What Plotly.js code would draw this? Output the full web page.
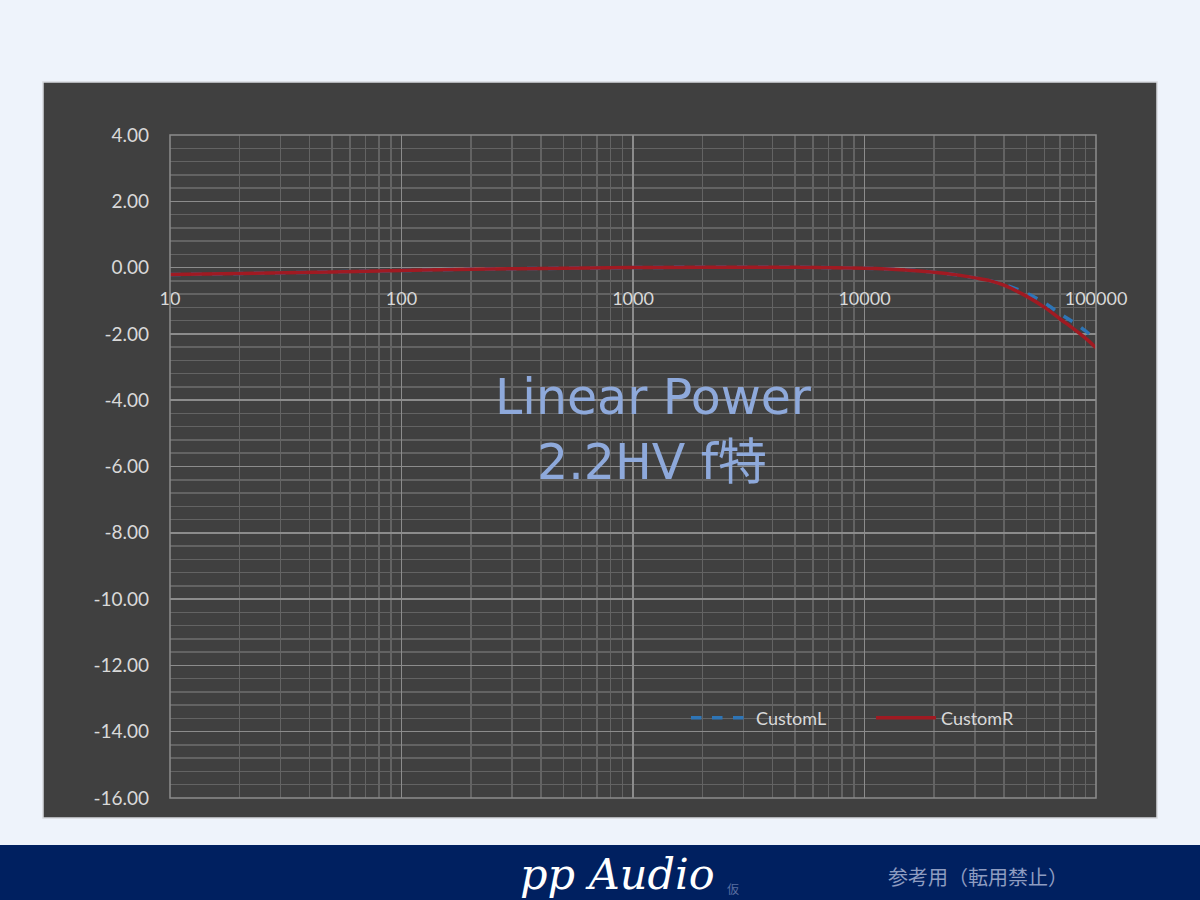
<!DOCTYPE html>
<html>
<head>
<meta charset="utf-8">
<script src="https://cdn.plot.ly/plotly-3.0.1.min.js"></script>
<style>html,body{margin:0;padding:0;background:#EEF3FB;}#chart{width:1200px;height:900px;}</style>
</head>
<body>
<div id="chart"></div>
<script>
const freq = [10, 20, 50, 100, 200, 500, 1000, 2000, 5000, 10000, 15000, 20000, 25000, 30000, 35000, 40000, 50000, 60000, 70000, 80000, 90000, 100000];
const customL = [-0.21, -0.18, -0.13, -0.09, -0.05, -0.02, 0, 0.01, 0.01, -0.02, -0.07, -0.14, -0.22, -0.31, -0.40, -0.51, -0.77, -1.07, -1.39, -1.65, -1.91, -2.18];
const customR = [-0.21, -0.18, -0.13, -0.09, -0.05, -0.02, 0, 0.01, 0.01, -0.02, -0.07, -0.14, -0.22, -0.31, -0.40, -0.53, -0.86, -1.20, -1.55, -1.85, -2.13, -2.42];
const xTickVals = [10, 100, 1000, 10000, 100000];
const xTickText = ['10', '100', '1000', '10000', '100000'];
const yTickVals = [4, 2, 0, -2, -4, -6, -8, -10, -12, -14, -16];
const yTickText = ['4.00', '2.00', '0.00', '-2.00', '-4.00', '-6.00', '-8.00', '-10.00', '-12.00', '-14.00', '-16.00'];
const titleLines = ['Linear Power', '2.2HV f特'];

const W = 926, H = 663, L = 170, T = 135;
const px = x => (x - L) / W;
const py = y => (T + H - y) / H;

const traces = [
  {x: freq, y: customL, name: 'CustomL', mode: 'lines', line: {color: '#2E75B6', width: 3.5, dash: 'dash', shape: 'spline'}},
  {x: freq, y: customR, name: 'CustomR', mode: 'lines', line: {color: '#A01A22', width: 3.5, shape: 'spline'}}
];

const font = 'Lato, "Noto Sans", sans-serif';
const ann = (x, y, text, f) => ({xref: 'paper', yref: 'paper', x: px(x), y: py(y), text: text,
  showarrow: false, xanchor: 'center', yanchor: 'middle', font: f});
const layout = {
  width: 1200, height: 900,
  margin: {l: L, r: 1200 - L - W, t: T, b: 900 - T - H, autoexpand: false},
  paper_bgcolor: '#EEF3FB',
  plot_bgcolor: '#404040',
  showlegend: true,
  legend: {orientation: 'h', x: px(686), y: py(718), xanchor: 'left', yanchor: 'middle',
           bgcolor: 'rgba(0,0,0,0)', font: {family: font, size: 18, color: '#D9D9D9'},
           itemwidth: 60, entrywidth: 110},
  xaxis: {type: 'log', range: [1, 5], anchor: 'free', position: 0.8, automargin: false,
          tickvals: xTickVals, ticktext: xTickText, ticks: '', showline: false, zeroline: false,
          ticklabelstandoff: 18,
          tickfont: {family: font, size: 18, color: '#D9D9D9'},
          showgrid: true, gridcolor: '#8C8C8C', gridwidth: 1.5,
          minor: {dtick: 'D1', showgrid: true, gridcolor: '#636363', gridwidth: 1.5, ticks: ''}},
  yaxis: {range: [-16, 4], tickvals: yTickVals, ticktext: yTickText, ticks: '', zeroline: false,
          showline: false, automargin: false, tickfont: {family: font, size: 19, color: '#D9D9D9'},
          ticklabelstandoff: 20,
          showgrid: true, gridcolor: '#8C8C8C', gridwidth: 1.5,
          minor: {dtick: 0.4, showgrid: true, gridcolor: '#636363', gridwidth: 1.5, ticks: ''}},
  shapes: [
    {type: 'rect', xref: 'paper', yref: 'paper', x0: px(43), x1: px(1157), y0: py(818), y1: py(82),
     fillcolor: '#404040', line: {color: '#D6D9DE', width: 1.5}, layer: 'below'},
    {type: 'rect', xref: 'paper', yref: 'paper', x0: px(-5), x1: px(1205), y0: py(905), y1: py(845),
     fillcolor: '#002060', line: {width: 0}, layer: 'below'},
    {type: 'rect', xref: 'paper', yref: 'paper', x0: 0, x1: 1, y0: 0, y1: 1,
     fillcolor: 'rgba(0,0,0,0)', line: {color: '#8C8C8C', width: 1.5}, layer: 'above'}
  ],
  annotations: [
    ann(653, 397, titleLines[0], {family: '"DejaVu Sans", sans-serif', size: 49, color: '#8EA9DB'}),
    ann(652, 462, titleLines[1], {family: '"DejaVu Sans", "Noto Sans CJK JP", sans-serif', size: 49, color: '#8EA9DB'}),
    ann(617, 874, '<i>pp Audio</i>', {family: '"DejaVu Serif", serif', size: 43, color: '#FFFFFF'}),
    ann(733, 888, '仮', {family: '"Noto Sans CJK JP", sans-serif', size: 12, color: '#5A6FA0'}),
    ann(978, 876, '参考用（転用禁止）', {family: '"Noto Sans CJK JP", sans-serif', size: 20, color: '#8E9CC0'})
  ]
};

Plotly.newPlot('chart', traces, layout, {displayModeBar: false, staticPlot: true});
</script>
</body>
</html>
